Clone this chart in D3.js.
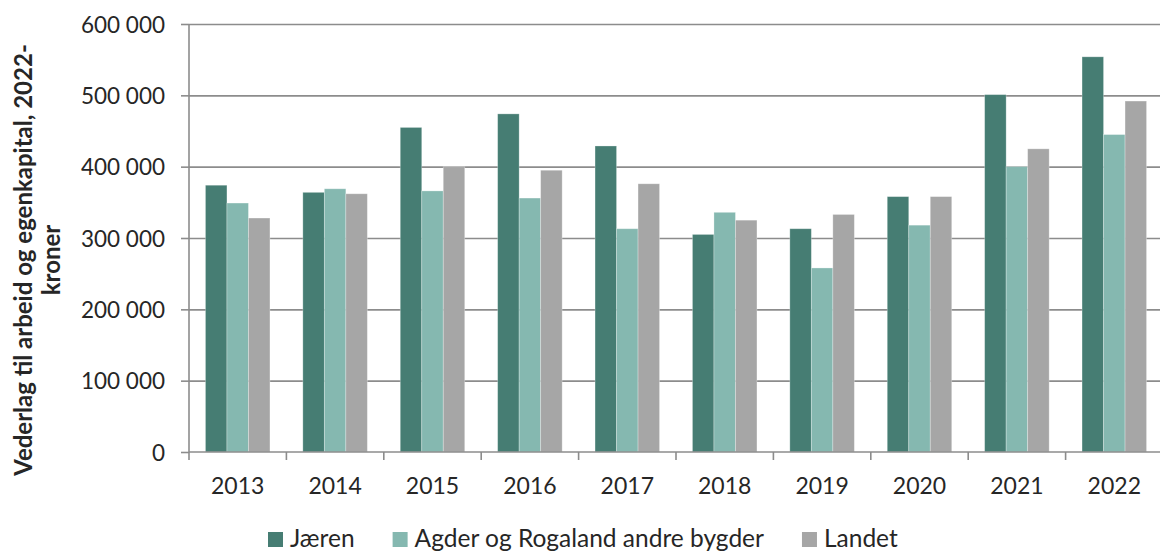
<!DOCTYPE html>
<html>
<head>
<meta charset="utf-8">
<script src="https://cdn.jsdelivr.net/npm/d3@7"></script>
<style>
  body { margin: 0; background: #fff; }
  svg text { font-family: Lato, "Open Sans", sans-serif; fill: #262626; }
</style>
</head>
<body>
<svg id="chart" width="1160" height="552"></svg>
<script>
// data
var years = ["2013", "2014", "2015", "2016", "2017", "2018", "2019", "2020", "2021", "2022"];
var series = ["Jæren", "Agder og Rogaland andre bygder", "Landet"];
var jaeren = [374000, 364000, 455000, 474000, 429000, 305000, 313000, 358000, 501000, 554000];
var agder  = [349000, 369000, 366000, 356000, 313000, 336000, 258000, 318000, 400000, 445000];
var landet = [328000, 362000, 400000, 395000, 376000, 325000, 333000, 358000, 425000, 492000];
var yTicks = [0, 100000, 200000, 300000, 400000, 500000, 600000];
var colors = ["#467d73", "#85b8b0", "#a6a6a6"];

var values = [jaeren, agder, landet];
var rows = years.map(function(yr, i) {
  return { year: yr, vals: series.map(function(s, j) { return { key: s, value: values[j][i] }; }) };
});

var svg = d3.select("#chart");
var plotL = 189, plotR = 1163, plotT = 24, plotB = 452;

var x0 = d3.scaleBand().domain(years).range([plotL, plotR]);
var x1 = d3.scaleBand().domain(series).range([0, x0.bandwidth()]).paddingOuter(0.765);
var y = d3.scaleLinear().domain([0, 600000]).range([plotB, plotT]);
var color = d3.scaleOrdinal().domain(series).range(colors);

var fmt = function(d) { return d3.format(",")(d).replace(/,/g, " "); };

// gridlines
svg.append("g")
    .attr("transform", "translate(" + plotL + ",0)")
    .call(d3.axisLeft(y).tickValues(yTicks.slice(1)).tickSize(-(plotR - plotL)).tickFormat(""))
    .call(function(g) { g.select(".domain").remove(); })
    .selectAll("line").attr("stroke", "#8c8c8c").attr("stroke-width", 1.6);

// bars
svg.append("g").selectAll("g")
  .data(rows)
  .enter().append("g")
    .attr("transform", function(d) { return "translate(" + x0(d.year) + ",0)"; })
  .selectAll("rect")
  .data(function(d) { return d.vals; })
  .enter().append("rect")
    .attr("x", function(d) { return x1(d.key); })
    .attr("y", function(d) { return y(d.value); })
    .attr("width", x1.bandwidth())
    .attr("height", function(d) { return plotB - y(d.value); })
    .attr("fill", function(d) { return color(d.key); })
    .attr("stroke", "#ffffff")
    .attr("stroke-opacity", 0.35)
    .attr("stroke-width", 0.8);

// y axis
var yAxis = svg.append("g")
    .attr("transform", "translate(" + plotL + ",0)")
    .call(d3.axisLeft(y).tickValues(yTicks).tickSize(8).tickPadding(16).tickFormat(fmt));
yAxis.select(".domain").attr("stroke", "#8c8c8c").attr("stroke-width", 1.6).attr("d", "M0," + plotT + "V" + plotB);
yAxis.selectAll("line").attr("stroke", "#8c8c8c").attr("stroke-width", 1.6);
yAxis.selectAll("text").style("font-size", "22.5px").attr("dy", "0.36em");

// x axis
var xAxis = svg.append("g")
    .attr("transform", "translate(0," + plotB + ")")
    .call(d3.axisBottom(x0).tickSize(0).tickPadding(26));
xAxis.select(".domain").attr("stroke", "#8c8c8c").attr("stroke-width", 1.6).attr("d", "M" + plotL + ",0H" + plotR);
xAxis.selectAll("text").style("font-size", "23px");
xAxis.selectAll(".bound")
  .data(years.map(function(d) { return x0(d); }).concat([plotR]))
  .enter().append("line")
    .attr("class", "bound")
    .attr("x1", function(d) { return d; }).attr("x2", function(d) { return d; })
    .attr("y1", 0).attr("y2", 8)
    .attr("stroke", "#8c8c8c").attr("stroke-width", 1.6);

// y title
var title = svg.append("text")
    .attr("transform", "translate(32,260) rotate(-90)")
    .attr("text-anchor", "middle")
    .style("font-size", "24px")
    .style("font-weight", "bold");
title.append("tspan").attr("x", 0).attr("dy", 0).text("Vederlag til arbeid og egenkapital, 2022-");
title.append("tspan").attr("x", 0).attr("dy", "1.15em").text("kroner");

// legend
var legend = svg.append("g").attr("transform", "translate(268,538)");
var lx = 0;
series.forEach(function(s) {
  var item = legend.append("g").attr("transform", "translate(" + lx + ",0)");
  item.append("rect").attr("x", 0).attr("y", -6).attr("width", 15).attr("height", 15).attr("fill", color(s));
  var t = item.append("text").attr("x", 22).attr("dy", "0.36em").style("font-size", "24.5px").text(s);
  lx += 22 + t.node().getComputedTextLength() + 38;
});
</script>
</body>
</html>
